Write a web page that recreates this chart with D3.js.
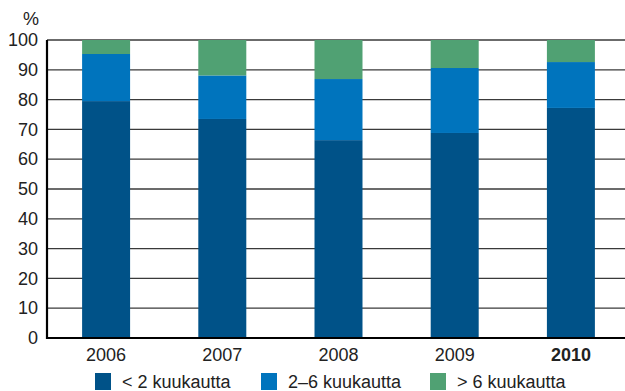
<!DOCTYPE html>
<html><head><meta charset="utf-8">
<script src="https://cdn.jsdelivr.net/npm/d3@7"></script>
<style>body{margin:0;background:#fff}svg{display:block}text{font-family:"Liberation Sans",Arial,sans-serif;fill:#222}</style>
</head><body>
<svg id="c" width="625" height="391"></svg>
<script>
const years = ["2006","2007","2008","2009","2010"];
const seriesNames = ["< 2 kuukautta","2–6 kuukautta","> 6 kuukautta"];
const lt2 = [79.5,73.5,66.4,68.8,77.2];
const m2to6 = [15.8,14.6,20.5,21.8,15.4];
const gt6 = [4.7,11.9,13.1,9.4,7.4];
const yTicks = [0,10,20,30,40,50,60,70,80,90,100];
const colors = ["#005288","#0074BD","#50A173"];

const svg = d3.select("#c");
const x = d3.scaleBand().domain(years).range([48,629]).paddingInner(0.587).paddingOuter(0.2935);
const y = d3.scaleLinear().domain([0,100]).range([338,40]);

const rows = years.map((yr,i)=>({year:yr, s0:lt2[i], s1:m2to6[i], s2:gt6[i]}));
const stack = d3.stack().keys(["s0","s1","s2"])(rows);

// gridlines
svg.append("g").selectAll("line").data(yTicks.filter(t=>t>0)).join("line")
  .attr("x1",47).attr("x2",625).attr("y1",d=>y(d)).attr("y2",d=>y(d))
  .attr("stroke","#3a3a3a").attr("stroke-width",1.3);

svg.append("g").selectAll("g").data(stack).join("g").attr("fill",(d,i)=>colors[i])
  .selectAll("rect").data(d=>d).join("rect")
  .attr("x",d=>x(d.data.year)).attr("width",x.bandwidth())
  .attr("y",d=>y(d[1])).attr("height",d=>y(d[0])-y(d[1]));

// axes lines
svg.append("line").attr("x1",47).attr("x2",47).attr("y1",40).attr("y2",339).attr("stroke","#000").attr("stroke-width",2.2);
svg.append("line").attr("x1",46).attr("x2",625).attr("y1",338).attr("y2",338).attr("stroke","#000").attr("stroke-width",2.2);

// y labels
const yAxis = d3.axisLeft(y).tickValues(yTicks).tickSize(0).tickPadding(9);
const ga = svg.append("g").attr("transform","translate(47,0)").call(yAxis);
ga.select(".domain").remove();
ga.selectAll("text").style("font-size","18px").attr("fill","#222").attr("font-family","Liberation Sans, Arial, sans-serif");
svg.append("text").attr("x",39).attr("y",25).attr("text-anchor","end").style("font-size","18px").text("%");

// x labels
const xAxis = d3.axisBottom(x).tickSize(0).tickPadding(10);
const gx = svg.append("g").attr("transform","translate(0,338)").call(xAxis);
gx.select(".domain").remove();
gx.selectAll("text").style("font-size","18px").attr("fill","#222").attr("font-family","Liberation Sans, Arial, sans-serif")
  .style("font-weight",d=>d==="2010"?"bold":"normal").attr("fill",d=>d==="2010"?"#000":"#222");

// legend
const legX = [95,261,430];
const lg = svg.append("g").selectAll("g").data(seriesNames).join("g")
  .attr("transform",(d,i)=>`translate(${legX[i]},373)`);
lg.append("rect").attr("width",16).attr("height",17).attr("fill",(d,i)=>colors[i]);
lg.append("text").attr("x",27).attr("y",15).style("font-size","18px").text(d=>d);
</script>
</body></html>
